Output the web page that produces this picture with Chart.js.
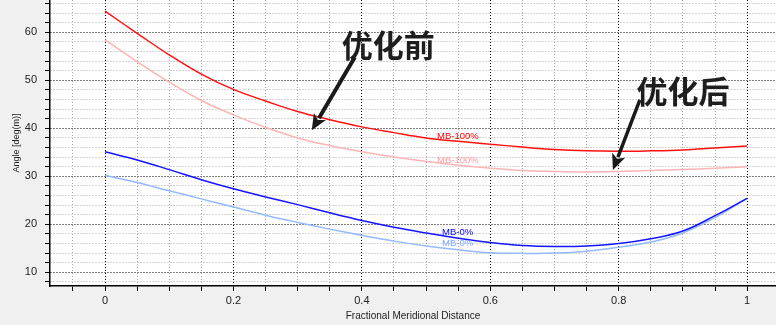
<!DOCTYPE html>
<html>
<head>
<meta charset="utf-8">
<script src="https://cdn.jsdelivr.net/npm/chart.js@4"></script>
<style>
html,body{margin:0;padding:0;background:#f0f0f0;}
#wrap{width:776px;height:325px;position:relative;}
</style>
</head>
<body>
<div id="wrap"><canvas id="c" width="776" height="325"></canvas></div>
<script>
// ---- data ----
const distance = [0,0.05,0.1,0.15,0.2,0.25,0.3,0.35,0.4,0.45,0.5,0.55,0.6,0.65,0.7,0.75,0.8,0.85,0.9,0.95,1.0];
const mb100Dark  = [64.4,59.8,55.3,51.3,48.1,45.7,43.5,41.8,40.3,39.1,38.0,37.3,36.7,36.1,35.6,35.3,35.2,35.3,35.5,35.9,36.3];
const mb100Light = [58.4,53.9,49.6,45.8,42.8,40.2,38.0,36.4,35.1,34.0,33.1,32.3,31.7,31.2,31.0,30.9,31.0,31.2,31.4,31.7,32.0];
const mb0Dark    = [35.1,33.4,31.4,29.3,27.4,25.7,24.1,22.4,20.8,19.4,18.2,17.1,16.2,15.6,15.4,15.5,16.0,17.0,18.6,21.8,25.4];
const mb0Light   = [30.2,28.7,27.0,25.3,23.6,21.9,20.4,19.0,17.7,16.5,15.5,14.7,14.1,13.95,14.0,14.4,15.2,16.3,18.2,21.4,25.4];

const xTicks = [-0.05,0,0.05,0.1,0.15,0.2,0.25,0.3,0.35,0.4,0.45,0.5,0.55,0.6,0.65,0.7,0.75,0.8,0.85,0.9,0.95,1.0];
const yTicks = [8,10,12,14,16,18,20,22,24,26,28,30,32,34,36,38,40,42,44,46,48,50,52,54,56,58,60,62,64,66];

const seriesNames = ['MB-100%','MB-100%','MB-0%','MB-0%'];
// curve label anchors (data coordinates)
const labelX = [0.517,0.517,0.525,0.525];
const labelY = [38.4,33.4,18.4,16.0];

// callouts: text + arrow (data coordinates)
const calloutText = ['优化前','优化后'];
const calloutTextX = [0.441,0.900];
const calloutTextY = [57.3,47.8];
const arrowFromX = [0.389,0.833];
const arrowFromY = [54.8,45.9];
const arrowToX = [0.322,0.791];
const arrowToY = [39.6,31.3];

const lineColors = ['#ff1010','#ffb4b4','#1414ff','#93b9ff'];
const labelColors = ['#ff0000','#ff9c9c','#0000ff','#7ea6ff'];

const pts = arr => distance.map((x,i)=>({x:x,y:arr[i]}));

const isMult = (v,s) => Math.abs(v/s - Math.round(v/s)) < 1e-6;

const bgPlugin = {
  id:'bg',
  beforeDraw(chart){
    const {ctx, chartArea:a} = chart;
    ctx.save();
    ctx.fillStyle = '#ffffff';
    ctx.fillRect(a.left, a.top, a.right-a.left, a.bottom-a.top);
    ctx.restore();
  }
};

function drawArrow(ctx, x1, y1, x2, y2, w, headLen, headHalf){
  const dx = x2-x1, dy = y2-y1;
  const len = Math.hypot(dx,dy);
  const ux = dx/len, uy = dy/len;
  const bx = x2 - ux*headLen, by = y2 - uy*headLen;
  ctx.strokeStyle = '#1a1a1a';
  ctx.fillStyle = '#1a1a1a';
  ctx.lineWidth = w;
  ctx.lineCap = 'butt';
  ctx.beginPath();
  ctx.moveTo(x1,y1);
  ctx.lineTo(bx + ux*2, by + uy*2);
  ctx.stroke();
  ctx.beginPath();
  ctx.moveTo(x2,y2);
  ctx.lineTo(bx - uy*headHalf, by + ux*headHalf);
  ctx.lineTo(bx + ux*4, by + uy*4);
  ctx.lineTo(bx + uy*headHalf, by - ux*headHalf);
  ctx.closePath();
  ctx.fill();
}

const annoPlugin = {
  id:'anno',
  afterDatasetsDraw(chart){
    const {ctx, scales:{x,y}} = chart;
    ctx.save();
    ctx.font = '9.5px "Liberation Sans", Arial, sans-serif';
    ctx.textAlign = 'left';
    ctx.textBaseline = 'middle';
    seriesNames.forEach((n,i)=>{
      ctx.fillStyle = labelColors[i];
      ctx.fillText(n, x.getPixelForValue(labelX[i]), y.getPixelForValue(labelY[i]));
    });
    const widths = [4,3.5];
    for(let i=0;i<arrowFromX.length;i++){
      drawArrow(ctx,
        x.getPixelForValue(arrowFromX[i]), y.getPixelForValue(arrowFromY[i]),
        x.getPixelForValue(arrowToX[i]), y.getPixelForValue(arrowToY[i]),
        widths[i], 16, 7);
    }
    ctx.font = 'bold 31px "Noto Sans CJK SC", sans-serif';
    ctx.textAlign = 'center';
    ctx.textBaseline = 'middle';
    ctx.fillStyle = '#1e1e1e';
    calloutText.forEach((t,i)=>{
      ctx.fillText(t, x.getPixelForValue(calloutTextX[i]), y.getPixelForValue(calloutTextY[i]));
    });
    ctx.restore();
  }
};

const gridColorX = c => (c.tick && isMult(c.tick.value,0.2)) ? '#000000' : '#a8a8a8';
const gridColorY = c => (c.tick && isMult(c.tick.value,10)) ? '#000000' : '#a8a8a8';

new Chart(document.getElementById('c'), {
  type:'line',
  data:{
    datasets:[mb100Dark,mb100Light,mb0Dark,mb0Light].map((arr,i)=>({
      label: seriesNames[i],
      data: pts(arr),
      borderColor: lineColors[i],
      borderWidth: 1.5,
      pointRadius: 0,
      fill:false,
      tension: 0.4
    }))
  },
  options:{
    responsive:false,
    animation:false,
    events:[],
    layout:{padding:0},
    plugins:{legend:{display:false}, tooltip:{enabled:false}},
    scales:{
      x:{
        type:'linear',
        min:-0.0857, max:1.045,
        afterBuildTicks(s){ s.ticks = xTicks.map(v=>({value:v})); },
        afterFit(s){ s.height = 39; s.paddingLeft=0; s.paddingRight=0; s.paddingTop=0; s.paddingBottom=0; },
        ticks:{
          autoSkip:false, maxRotation:0, padding:3,
          color:'#222',
          font:{family:'"Liberation Sans", Arial, sans-serif', size:11},
          callback:(v)=> isMult(v,0.2) ? String(Math.round(v*10)/10) : ''
        },
        grid:{color:gridColorX, lineWidth:1, tickLength:5, tickColor:'#000', drawTicks:true},
        border:{display:true, color:'#000', width:1.5, dash:[1,2]},
        title:{display:true, text:'Fractional Meridional Distance', color:'#222',
          font:{family:'"Liberation Sans", Arial, sans-serif', size:10}, padding:{top:0,bottom:3}}
      },
      y:{
        type:'linear',
        min:7.15, max:66.73,
        afterBuildTicks(s){ s.ticks = yTicks.map(v=>({value:v})); },
        afterFit(s){ s.width = 50; s.paddingLeft=0; s.paddingRight=0; s.paddingTop=0; s.paddingBottom=0; },
        ticks:{
          autoSkip:false, padding:8,
          color:'#222',
          font:{family:'"Liberation Sans", Arial, sans-serif', size:11},
          callback:(v)=> isMult(v,10) ? String(Math.round(v)) : ''
        },
        grid:{color:gridColorY, lineWidth:1, tickLength:5, tickColor:'#000', drawTicks:true},
        border:{display:true, color:'#000', width:1.5, dash:[1,2]},
        title:{display:true, text:'Angle [deg(m)]', color:'#222',
          font:{family:'"Liberation Sans", Arial, sans-serif', size:9}, padding:{top:11,bottom:0}}
      }
    }
  },
  plugins:[bgPlugin, annoPlugin]
});
</script>
</body>
</html>
